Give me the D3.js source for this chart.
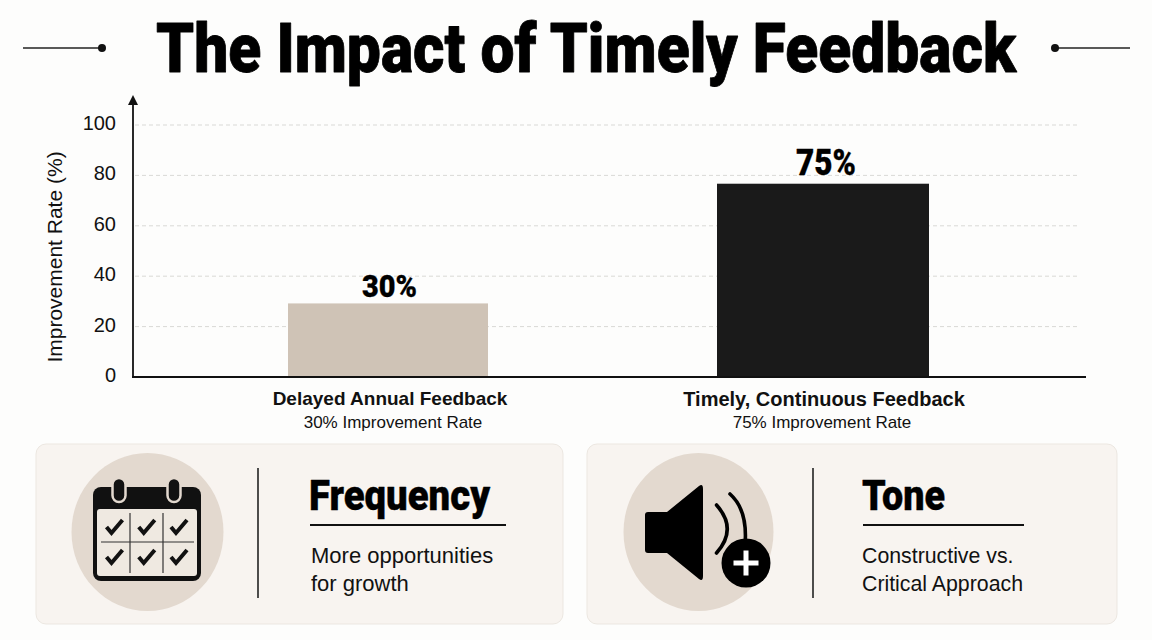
<!DOCTYPE html>
<html>
<head>
<meta charset="utf-8">
<script src="https://cdn.jsdelivr.net/npm/d3@7"></script>
<style>
  html, body { margin: 0; padding: 0; background: #fdfdfc; }
  svg { display: block; }
  text { font-family: "Liberation Sans", Arial, sans-serif; fill: #111; }
  .heavy { font-family: Roboto, "Liberation Sans", sans-serif; font-weight: 900; stroke: #000; paint-order: stroke; stroke-linejoin: round; fill: #000; }
</style>
</head>
<body>
<div id="chart"></div>
<script>
const categories = ["Delayed Annual Feedback", "Timely, Continuous Feedback"]
const subLabels = ["30% Improvement Rate", "75% Improvement Rate"]
const barValues = [29.2, 76.7]
const valueLabels = ["30%", "75%"]
const yTicks = [0, 20, 40, 60, 80, 100]
const cardTitles = ["Frequency", "Tone"]
const cardLines = [["More opportunities", "for growth"], ["Constructive vs.", "Critical Approach"]]

const width = 1152, height = 640
const barColors = ["#cfc3b6", "#1a1a1a"]
const barWidths = [200, 212]

const svg = d3.select("#chart").append("svg")
    .attr("width", width)
    .attr("height", height)
    .attr("viewBox", [0, 0, width, height])

// title
svg.append("text")
    .attr("class", "heavy")
    .attr("x", 156).attr("y", 72)
    .attr("font-size", 68)
    .attr("stroke-width", 0.8)
    .attr("textLength", 860)
    .attr("lengthAdjust", "spacingAndGlyphs")
    .text("The Impact of Timely Feedback")

const deco = [[23, 100, 102], [1130, 1058, 1055]]
deco.forEach(d => {
  svg.append("line").attr("x1", d[0]).attr("x2", d[1]).attr("y1", 48).attr("y2", 48)
      .attr("stroke", "#222").attr("stroke-width", 1.3)
  svg.append("circle").attr("cx", d[2]).attr("cy", 48).attr("r", 4).attr("fill", "#111")
})

// chart
const x = d3.scaleBand().domain(categories).range([170.5, 1040.5])
const y = d3.scaleLinear().domain([0, 100]).range([377, 125])

svg.append("g")
    .selectAll("line")
    .data(yTicks.filter(d => d > 0))
    .join("line")
    .attr("x1", 135).attr("x2", 1080)
    .attr("y1", d => y(d)).attr("y2", d => y(d))
    .attr("stroke", "#d9d9d6")
    .attr("stroke-dasharray", "4 3")

svg.selectAll(".bar")
    .data(categories)
    .join("rect")
    .attr("class", "bar")
    .attr("x", (d, i) => x(d) + x.bandwidth() / 2 - barWidths[i] / 2)
    .attr("width", (d, i) => barWidths[i])
    .attr("y", (d, i) => y(barValues[i]))
    .attr("height", (d, i) => y(0) - y(barValues[i]))
    .attr("fill", (d, i) => barColors[i])

svg.selectAll(".value")
    .data(categories)
    .join("text")
    .attr("class", "heavy value")
    .attr("x", (d, i) => x(d) + x.bandwidth() / 2 + (i ? 3 : 1.5))
    .attr("y", (d, i) => y(barValues[i]) - (i ? 9 : 6))
    .attr("text-anchor", "middle")
    .attr("font-size", (d, i) => i ? 36 : 32)
    .attr("stroke-width", 0.3)
    .attr("textLength", (d, i) => i ? 60 : 55)
    .attr("lengthAdjust", "spacingAndGlyphs")
    .text((d, i) => valueLabels[i])

const yAxis = svg.append("g")
    .attr("transform", "translate(132,0)")
    .call(d3.axisLeft(y).tickValues(yTicks).tickSize(0).tickPadding(16))
yAxis.select(".domain").remove()
yAxis.selectAll("text")
    .attr("font-size", 20)
    .attr("font-family", "Liberation Sans")
    .attr("fill", "#111")
    .attr("y", -2)

const xAxis = svg.append("g")
    .attr("transform", "translate(0,377)")
    .call(d3.axisBottom(x).tickSize(0).tickPadding(15))
xAxis.select(".domain").remove()
xAxis.selectAll(".tick > text")
    .attr("font-size", (d, i) => i ? 20 : 19)
    .attr("font-weight", 700)
    .attr("font-family", "Liberation Sans")
    .attr("fill", "#111")
    .attr("x", (d, i) => i ? 1 : 2)
xAxis.selectAll(".tick").append("text")
    .attr("y", 51)
    .attr("font-size", 17)
    .attr("font-family", "Liberation Sans")
    .attr("fill", "#222")
    .attr("x", (d, i) => i ? -1 : 5)
    .text((d, i) => subLabels[i])

svg.append("line").attr("x1", 132).attr("x2", 1086).attr("y1", 377).attr("y2", 377)
    .attr("stroke", "#111").attr("stroke-width", 1.8)
svg.append("line").attr("x1", 133).attr("x2", 133).attr("y1", 102).attr("y2", 377)
    .attr("stroke", "#111").attr("stroke-width", 1.8)
svg.append("path").attr("d", "M133,95 L138,105 L128,105 Z").attr("fill", "#111")

svg.append("text")
    .attr("transform", "translate(62,257) rotate(-90)")
    .attr("text-anchor", "middle")
    .attr("font-size", 21)
    .attr("fill", "#222")
    .text("Improvement Rate (%)")

// cards
const cards = [
  {x: 36, w: 527, cx: 147.5, rx: 76, div: 258, tx: 309, lineEnd: 506, tw: 181},
  {x: 587, w: 530, cx: 698.5, rx: 75, div: 813, tx: 862, lineEnd: 1024, tw: 83}
]
cards.forEach((c, i) => {
  svg.append("rect").attr("x", c.x).attr("y", 444).attr("width", c.w).attr("height", 180).attr("rx", 10)
      .attr("fill", "#f8f4f0").attr("stroke", "#ece7e1")
  svg.append("ellipse").attr("cx", c.cx).attr("cy", 532).attr("rx", c.rx).attr("ry", 79).attr("fill", "#e3d9cf")
  svg.append("line").attr("x1", c.div).attr("x2", c.div).attr("y1", 468).attr("y2", 598)
      .attr("stroke", "#222").attr("stroke-width", 1.6)
  svg.append("text").attr("class", "heavy")
      .attr("x", c.tx).attr("y", 510)
      .attr("font-size", 42).attr("stroke-width", 0.4)
      .attr("textLength", c.tw).attr("lengthAdjust", "spacingAndGlyphs")
      .text(cardTitles[i])
  svg.append("line").attr("x1", c.tx + 1).attr("x2", c.lineEnd).attr("y1", 525).attr("y2", 525)
      .attr("stroke", "#111").attr("stroke-width", 2)
  svg.selectAll(".cl" + i)
      .data(cardLines[i])
      .join("text")
      .attr("class", "cl" + i)
      .attr("x", c.tx + (i ? 0 : 2))
      .attr("y", (d, j) => 563 + j * 28)
      .attr("font-size", i ? 21.3 : 22)
      .attr("fill", "#1a1a1a")
      .text(d => d)
})

// calendar icon
const cal = svg.append("g").attr("transform", "translate(93,478)")
cal.append("rect").attr("y", 9).attr("width", 108).attr("height", 94).attr("rx", 8).attr("fill", "#111")
cal.append("rect").attr("x", 4).attr("y", 31).attr("width", 100).attr("height", 67).attr("rx", 3).attr("fill", "#efe9e1")
;[26, 81].forEach(px => {
  cal.append("rect").attr("x", px - 6.5).attr("y", 0).attr("width", 13).attr("height", 24).attr("rx", 6.5)
      .attr("fill", "#111").attr("stroke", "#e3d9cf").attr("stroke-width", 2.5)
})
;[[37, 35, 37, 95], [70, 35, 70, 95], [8, 64, 101, 64]].forEach(l => {
  cal.append("line").attr("x1", l[0]).attr("y1", l[1]).attr("x2", l[2]).attr("y2", l[3])
      .attr("stroke", "#333").attr("stroke-width", 1.2)
})
d3.range(6).forEach(k => {
  const px = 21.5 + (k % 3) * 32.25, py = k < 3 ? 49 : 79
  cal.append("path")
      .attr("d", `M${px - 8},${py} L${px - 3},${py + 6} L${px + 8},${py - 7}`)
      .attr("fill", "none").attr("stroke", "#111").attr("stroke-width", 4)
})

// speaker icon
const spk = svg.append("g").attr("transform", "translate(645,485)")
spk.append("path")
    .attr("d", "M3,27 H22 L54,1 Q58,-2 58,4 V91 Q58,97 54,94 L22,68 H3 Q0,68 0,65 V30 Q0,27 3,27 Z")
    .attr("fill", "#000")
spk.append("path").attr("d", "M71.5,20 Q93,44 71.5,68")
    .attr("fill", "none").attr("stroke", "#000").attr("stroke-width", 3.6).attr("stroke-linecap", "round")
spk.append("path").attr("d", "M85,9 Q103,25 100,60")
    .attr("fill", "none").attr("stroke", "#000").attr("stroke-width", 3.6).attr("stroke-linecap", "round")
spk.append("circle").attr("cx", 101).attr("cy", 78).attr("r", 24.5).attr("fill", "#000")
spk.append("path").attr("d", "M101,65.5 V90.5 M88.5,78 H113.5")
    .attr("stroke", "#fff").attr("stroke-width", 5)
</script>
</body>
</html>
